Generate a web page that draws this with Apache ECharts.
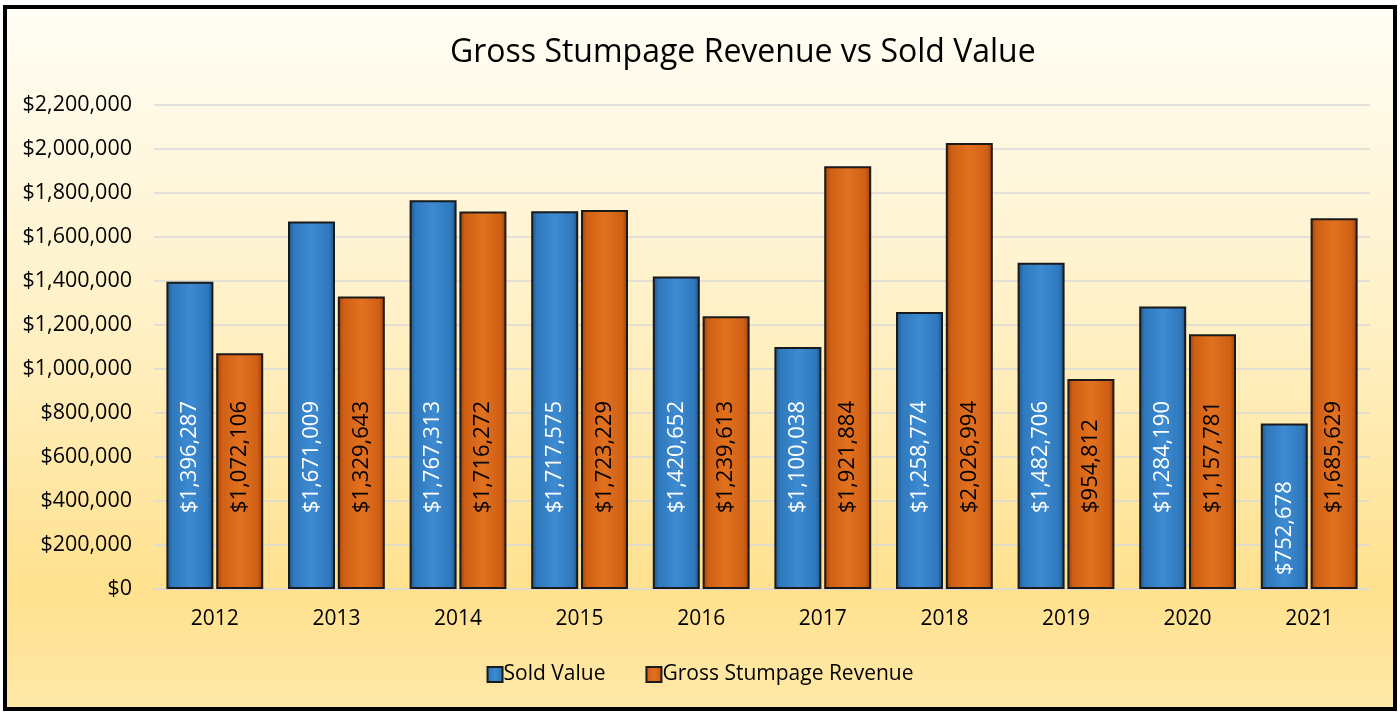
<!DOCTYPE html>
<html>
<head>
<meta charset="utf-8">
<script src="https://cdn.jsdelivr.net/npm/echarts@6/dist/echarts.min.js"></script>
<style>
  html, body { margin: 0; padding: 0; background: #fff; }
  #chart { width: 1400px; height: 715px; }
</style>
</head>
<body>
<div id="chart"></div>
<script>
var years = ['2012', '2013', '2014', '2015', '2016', '2017', '2018', '2019', '2020', '2021'];
var soldValue = [1396287, 1671009, 1767313, 1717575, 1420652, 1100038, 1258774, 1482706, 1284190, 752678];
var grossRevenue = [1072106, 1329643, 1716272, 1723229, 1239613, 1921884, 2026994, 954812, 1157781, 1685629];
var yTicks = { min: 0, max: 2200000, interval: 200000 };

var FONT = 'Open Sans';

function money(v) {
    return '$' + Number(v).toLocaleString('en-US');
}

// bevelled look: dark edges, lighter middle
function barGradient(edge, mid, light) {
    return new echarts.graphic.LinearGradient(0, 0, 1, 0, [
        { offset: 0, color: edge },
        { offset: 0.12, color: mid },
        { offset: 0.5, color: light },
        { offset: 0.88, color: mid },
        { offset: 1, color: edge }
    ]);
}

function labelFor(color) {
    return {
        show: true,
        rotate: 90,
        position: 'insideBottom',
        distance: 76,
        align: 'left',
        verticalAlign: 'middle',
        color: color,
        fontFamily: FONT,
        fontSize: 22,
        formatter: function (p) { return money(p.value); }
    };
}

// short bars keep their label closer to the base
function buildData(values) {
    return values.map(function (v) {
        var item = { value: v };
        if (v < 900000) {
            item.label = { distance: 14 };
        }
        return item;
    });
}

var chart = echarts.init(document.getElementById('chart'));

var option = {
    animation: false,
    graphic: [{
        type: 'rect',
        z: -10,
        shape: { x: 5, y: 7, width: 1390, height: 702 },
        style: {
            fill: new echarts.graphic.LinearGradient(0, 0, 0, 1, [
                { offset: 0, color: '#FFFDF6' },
                { offset: 0.45, color: '#FFF1C6' },
                { offset: 0.83, color: '#FFE18E' },
                { offset: 1, color: '#FFE9A9' }
            ]),
            stroke: '#000',
            lineWidth: 4
        }
    }],
    title: {
        text: 'Gross Stumpage Revenue vs Sold Value',
        left: 445,
        top: 32,
        textStyle: { fontFamily: FONT, fontSize: 32, fontWeight: 'normal', color: '#000' }
    },
    legend: {
        bottom: 25,
        left: 'center',
        itemWidth: 15,
        itemHeight: 15,
        itemGap: 40,
        icon: 'rect',
        textStyle: { fontFamily: FONT, fontSize: 21, color: '#000', padding: [0, 0, 0, -4] },
        data: ['Sold Value', 'Gross Stumpage Revenue']
    },
    grid: { left: 154, right: 30, top: 105, bottom: 126, containLabel: false },
    xAxis: {
        type: 'category',
        data: years,
        axisTick: { show: false },
        axisLine: { lineStyle: { color: '#d9d9d9', width: 1 } },
        axisLabel: { fontFamily: FONT, fontSize: 21, color: '#000', margin: 20 }
    },
    yAxis: {
        type: 'value',
        min: yTicks.min,
        max: yTicks.max,
        interval: yTicks.interval,
        axisLine: { show: false },
        axisTick: { show: false },
        splitLine: { lineStyle: { color: '#d9d9d9', width: 1.5 } },
        axisLabel: {
            fontFamily: FONT, fontSize: 21.5, color: '#000', margin: 22,
            formatter: money
        }
    },
    series: [
        {
            name: 'Sold Value',
            type: 'bar',
            barWidth: 47,
            barGap: '6%',
            data: buildData(soldValue),
            itemStyle: {
                color: barGradient('#1B5286', '#2F78BC', '#3D8BD2'),
                borderColor: '#1a1a1a',
                borderWidth: 2
            },
            label: labelFor('#fff')
        },
        {
            name: 'Gross Stumpage Revenue',
            type: 'bar',
            barWidth: 47,
            barGap: '6%',
            data: buildData(grossRevenue),
            itemStyle: {
                color: barGradient('#963F08', '#CF5F14', '#E2711F'),
                borderColor: '#1a1a1a',
                borderWidth: 2
            },
            label: labelFor('#000')
        }
    ]
};

chart.setOption(option);
</script>
</body>
</html>
